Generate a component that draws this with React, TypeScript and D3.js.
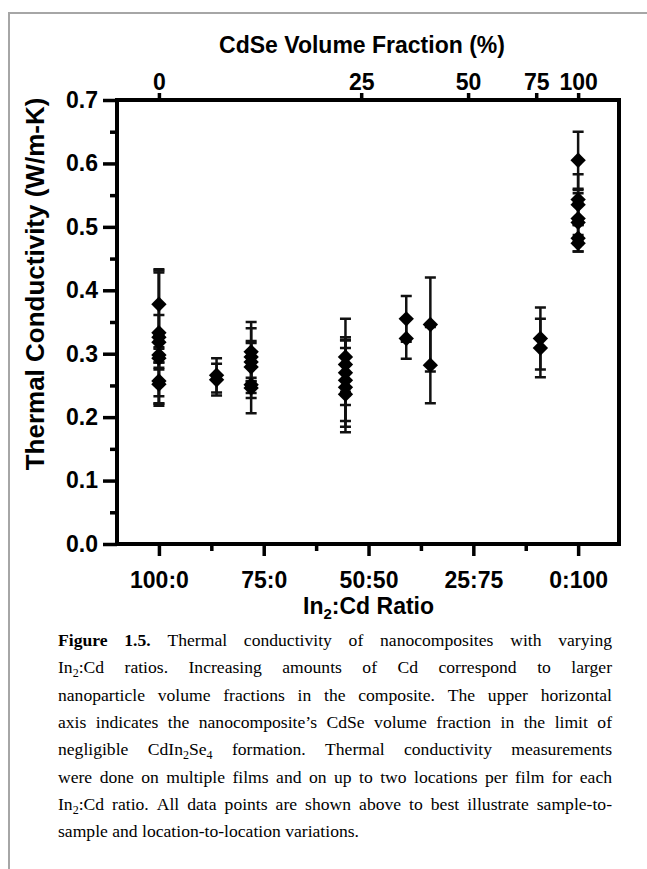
import React, { useEffect, useRef } from "react";
import * as d3 from "d3";

// ---------- data ----------
const yTickValues = [0, 0.1, 0.2, 0.3, 0.4, 0.5, 0.6, 0.7];
const yMinorValues = [0.05, 0.15, 0.25, 0.35, 0.45, 0.55, 0.65];
const ratioLabels = ["100:0", "75:0", "50:50", "25:75", "0:100"];
const ratioMinor = [0.5, 1.5, 2.5, 3.5];
const fractionLabels = ["0", "25", "50", "75", "100"];
const fractionPos = [0, 1.93, 2.95, 3.6, 4.0];

const columnX = [0, 0.55, 0.88, 1.78, 2.36, 2.59, 3.64, 4.0];
const kMean = [
  [0.378, 0.333, 0.326, 0.318, 0.298, 0.293, 0.257, 0.252],
  [0.266, 0.259],
  [0.303, 0.295, 0.287, 0.279, 0.251, 0.246],
  [0.295, 0.283, 0.27, 0.258, 0.247, 0.236],
  [0.355, 0.324],
  [0.346, 0.282],
  [0.324, 0.309],
  [0.605, 0.543, 0.535, 0.513, 0.507, 0.482, 0.474],
];
const kError = [
  [0.05, 0.1, 0.105, 0.043, 0.012, 0.015, 0.035, 0.034],
  [0.027, 0.025],
  [0.047, 0.045, 0.03, 0.041, 0.045, 0.016],
  [0.06, 0.043, 0.051, 0.064, 0.062, 0.06],
  [0.036, 0.032],
  [0.074, 0.06],
  [0.049, 0.046],
  [0.045, 0.04, 0.023, 0.04, 0.03, 0.021, 0.013],
];

const captionLines = [
  "*Figure 1.5.* Thermal conductivity of nanocomposites with varying",
  "In_2:Cd ratios. Increasing amounts of Cd correspond to larger",
  "nanoparticle volume fractions in the composite. The upper horizontal",
  "axis indicates the nanocomposite\u2019s CdSe volume fraction in the limit of",
  "negligible CdIn_2Se_4 formation. Thermal conductivity measurements",
  "were done on multiple films and on up to two locations per film for each",
  "In_2:Cd ratio. All data points are shown above to best illustrate sample-to-",
  "sample and location-to-location variations.",
];

const SANS = "'Liberation Sans', Arial, Helvetica, sans-serif";
const SERIF = "'Liberation Serif', 'Times New Roman', serif";

type Seg = { t: string; bold: boolean; sub: boolean };

function parseWord(word: string, boldIn: boolean): { segs: Seg[]; bold: boolean } {
  let bold = boldIn;
  const segs: Seg[] = [];
  let cur = "";
  const flush = () => {
    if (cur) segs.push({ t: cur, bold, sub: false });
    cur = "";
  };
  for (let i = 0; i < word.length; i++) {
    const c = word[i];
    if (c === "*") {
      flush();
      bold = !bold;
    } else if (c === "_") {
      flush();
      segs.push({ t: word[i + 1], bold, sub: true });
      i++;
    } else cur += c;
  }
  flush();
  return { segs, bold };
}

export default function App() {
  const ref = useRef<SVGSVGElement>(null);

  useEffect(() => {
    const W = 647;
    const H = 869;
    const svg = d3.select(ref.current as SVGSVGElement);
    svg.selectAll("*").remove();
    svg.append("rect").attr("width", W).attr("height", H).attr("fill", "#fff");

    // outer gray frame
    svg
      .append("path")
      .attr("d", `M9,${H} V13 H${W}`)
      .attr("fill", "none")
      .attr("stroke", "#a6a6a6")
      .attr("stroke-width", 2);

    const left = 117, right = 619, top = 100, bottom = 544;
    const x = d3.scaleLinear().domain([-0.4, 4.39]).range([left, right]);
    const y = d3.scaleLinear().domain([0, 0.7]).range([bottom, top]);

    const styleAxis = (g: any, fs: number) => {
      g.select(".domain").remove();
      g.selectAll(".tick line").attr("stroke", "#000").attr("stroke-width", 3.5);
      g.selectAll(".tick text")
        .attr("fill", "#000")
        .style("font-family", SANS)
        .style("font-weight", "bold")
        .style("font-size", fs + "px");
    };

    // left axis
    const gl = svg.append("g").attr("transform", `translate(${left},0)`);
    gl.call(d3.axisLeft(y).tickValues(yTickValues).tickSize(14).tickSizeOuter(0).tickPadding(5).tickFormat(d3.format(".1f")) as any);
    styleAxis(gl, 23);
    const glm = svg.append("g").attr("transform", `translate(${left},0)`);
    glm.call(d3.axisLeft(y).tickValues(yMinorValues).tickSize(7).tickSizeOuter(0).tickFormat(() => "") as any);
    styleAxis(glm, 23);

    // bottom axis
    const gb = svg.append("g").attr("transform", `translate(0,${bottom})`);
    gb.call(
      d3.axisBottom(x).tickValues([0, 1, 2, 3, 4]).tickSize(12).tickSizeOuter(0).tickPadding(16)
        .tickFormat((d: any) => ratioLabels[d as number]) as any
    );
    styleAxis(gb, 23);
    const gbm = svg.append("g").attr("transform", `translate(0,${bottom})`);
    gbm.call(d3.axisBottom(x).tickValues(ratioMinor).tickSize(7).tickSizeOuter(0).tickFormat(() => "") as any);
    styleAxis(gbm, 23);

    // top axis
    const gt = svg.append("g").attr("transform", `translate(0,${top})`);
    gt.call(
      d3.axisTop(x).tickValues(fractionPos).tickSize(7).tickSizeOuter(0).tickPadding(3)
        .tickFormat((_d: any, i: number) => fractionLabels[i]) as any
    );
    styleAxis(gt, 23);

    // frame
    svg
      .append("path")
      .attr("d", `M${left},${top} H${right} V${bottom} H${left} Z`)
      .attr("fill", "none")
      .attr("stroke", "#000")
      .attr("stroke-width", 4)
      .attr("stroke-linejoin", "miter");

    // error bars
    const cap = 5.5;
    const gData = svg.append("g");
    columnX.forEach((cx, ci) => {
      const px = x(cx);
      kMean[ci].forEach((v, j) => {
        const e = kError[ci][j];
        const y1 = y(v + e), y2 = y(v - e);
        gData.append("path")
          .attr("d", `M${px},${y1} V${y2} M${px - cap},${y1} H${px + cap} M${px - cap},${y2} H${px + cap}`)
          .attr("fill", "none")
          .attr("stroke", "#111")
          .attr("stroke-width", 2.5);
      });
    });
    const diamond = d3.symbol().type(d3.symbolSquare).size(118);
    columnX.forEach((cx, ci) => {
      const px = x(cx);
      kMean[ci].forEach((v) => {
        gData.append("path")
          .attr("d", diamond() as string)
          .attr("transform", `translate(${px},${y(v)}) rotate(45)`)
          .attr("fill", "#000");
      });
    });

    // titles
    svg.append("text")
      .attr("x", 362).attr("y", 53)
      .attr("text-anchor", "middle")
      .style("font-family", SANS).style("font-weight", "bold").style("font-size", "23px")
      .text("CdSe Volume Fraction (%)");

    svg.append("text")
      .attr("transform", `translate(44,284) rotate(-90)`)
      .attr("text-anchor", "middle")
      .style("font-family", SANS).style("font-weight", "bold").style("font-size", "26px")
      .text("Thermal Conductivity (W/m-K)");

    const xt = svg.append("text")
      .attr("x", (x(0) + x(4)) / 2).attr("y", 614)
      .attr("text-anchor", "middle")
      .style("font-family", SANS).style("font-weight", "bold").style("font-size", "23px");
    xt.append("tspan").text("In");
    xt.append("tspan").attr("dy", 5).style("font-size", "15px").text("2");
    xt.append("tspan").attr("dy", -5).text(":Cd Ratio");

    // caption
    const capLeft = 58, capRight = 612, capTop = 646, lineH = 27.3, capFs = 17.6;
    let bold = false;
    captionLines.forEach((line, li) => {
      const words = line.split(" ");
      const by = capTop + li * lineH;
      const nodes: { node: SVGTextElement; w: number }[] = [];
      words.forEach((word) => {
        const r = parseWord(word, bold);
        bold = r.bold;
        const t = svg.append("text")
          .attr("x", 0).attr("y", by)
          .style("font-family", SERIF).style("font-size", capFs + "px").attr("fill", "#000");
        let wasSub = false;
        r.segs.forEach((s) => {
          const ts = t.append("tspan").text(s.t).style("font-weight", s.bold ? "bold" : "normal");
          if (s.sub) {
            ts.style("font-size", "12px");
            if (!wasSub) ts.attr("dy", 4);
            wasSub = true;
          } else {
            if (wasSub) ts.attr("dy", -4);
            wasSub = false;
          }
        });
        const node = t.node() as SVGTextElement;
        nodes.push({ node, w: node.getComputedTextLength() });
      });
      const total = nodes.reduce((a, b) => a + b.w, 0);
      const isLast = li === captionLines.length - 1;
      const gap = isLast || nodes.length < 2 ? capFs * 0.25 : (capRight - capLeft - total) / (nodes.length - 1);
      let cx = capLeft;
      nodes.forEach((n) => {
        d3.select(n.node).attr("x", cx);
        cx += n.w + gap;
      });
    });
  }, []);

  return (
    <svg
      ref={ref}
      width={647}
      height={869}
      style={{ position: "absolute", left: 0, top: 0, display: "block" }}
    />
  );
}
